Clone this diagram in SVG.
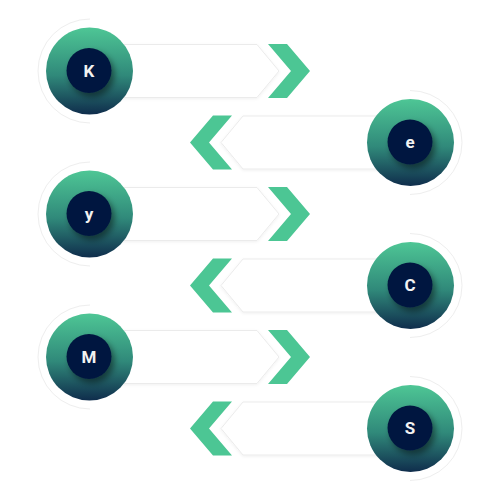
<svg xmlns="http://www.w3.org/2000/svg" width="500" height="500" viewBox="0 0 500 500">
<defs>
<linearGradient id="g" x1="0" y1="0" x2="0" y2="1">
<stop offset="0" stop-color="#4ec695"/>
<stop offset="0.55" stop-color="#30897a"/>
<stop offset="1" stop-color="#0f2d4c"/>
</linearGradient>
<filter id="sh" x="-50%" y="-50%" width="200%" height="200%">
<feDropShadow dx="3" dy="4" stdDeviation="3" flood-color="#000" flood-opacity="0.45"/>
</filter>
<filter id="bs" x="-10%" y="-30%" width="120%" height="160%">
<feDropShadow dx="0" dy="1" stdDeviation="1.5" flood-color="#000" flood-opacity="0.06"/>
</filter>
</defs>
<style>
.ring{fill:#fff;stroke:#eeeeee;stroke-width:1}
.bar{fill:#fff;stroke:#ebebeb;stroke-width:1}
.chev{fill:#4cc694}
.outer{fill:url(#g)}
.inner{fill:#02193f;filter:url(#sh)}
.lbl{font-family:Roboto,"Liberation Sans",sans-serif;font-weight:bold;font-size:17px;fill:#f2f2f2;text-anchor:middle}
</style>
<g id="connectors">
<polygon class="chev" points="268,44 287,44 310,71 287,98 268,98 291,71"/>
<polygon class="chev" points="232,115.5 213,115.5 190,142.5 213,169.5 232,169.5 209,142.5"/>
<polygon class="chev" points="268,187 287,187 310,214 287,241 268,241 291,214"/>
<polygon class="chev" points="232,258.5 213,258.5 190,285.5 213,312.5 232,312.5 209,285.5"/>
<polygon class="chev" points="268,330 287,330 310,357 287,384 268,384 291,357"/>
<polygon class="chev" points="232,401.5 213,401.5 190,428.5 213,455.5 232,455.5 209,428.5"/>
</g>
<g id="node-K">
<path class="ring" d="M90,19 A52,52 0 0 0 90,123"/>
<polygon class="bar" filter="url(#bs)" points="95,44.5 257,44.5 279,71 257,97.5 95,97.5"/>
<circle class="outer" cx="89.5" cy="71" r="43.5"/>
<circle class="inner" cx="89" cy="70.5" r="22.5"/>
<text class="lbl" x="89" y="76.7">K</text>
</g>
<g id="node-e">
<path class="ring" d="M410,90.5 A52,52 0 0 1 410,194.5"/>
<polygon class="bar" filter="url(#bs)" points="405,116 243,116 221,142.5 243,169 405,169"/>
<circle class="outer" cx="410.5" cy="142.5" r="43.5"/>
<circle class="inner" cx="410" cy="142" r="22.5"/>
<text class="lbl" x="410" y="148.2">e</text>
</g>
<g id="node-y">
<path class="ring" d="M90,162 A52,52 0 0 0 90,266"/>
<polygon class="bar" filter="url(#bs)" points="95,187.5 257,187.5 279,214 257,240.5 95,240.5"/>
<circle class="outer" cx="89.5" cy="214" r="43.5"/>
<circle class="inner" cx="89" cy="213.5" r="22.5"/>
<text class="lbl" x="89" y="219.7">y</text>
</g>
<g id="node-C">
<path class="ring" d="M410,233.5 A52,52 0 0 1 410,337.5"/>
<polygon class="bar" filter="url(#bs)" points="405,259 243,259 221,285.5 243,312 405,312"/>
<circle class="outer" cx="410.5" cy="285.5" r="43.5"/>
<circle class="inner" cx="410" cy="285" r="22.5"/>
<text class="lbl" x="410" y="291.2">C</text>
</g>
<g id="node-M">
<path class="ring" d="M90,305 A52,52 0 0 0 90,409"/>
<polygon class="bar" filter="url(#bs)" points="95,330.5 257,330.5 279,357 257,383.5 95,383.5"/>
<circle class="outer" cx="89.5" cy="357" r="43.5"/>
<circle class="inner" cx="89" cy="356.5" r="22.5"/>
<text class="lbl" x="89" y="362.7">M</text>
</g>
<g id="node-S">
<path class="ring" d="M410,376.5 A52,52 0 0 1 410,480.5"/>
<polygon class="bar" filter="url(#bs)" points="405,402 243,402 221,428.5 243,455 405,455"/>
<circle class="outer" cx="410.5" cy="428.5" r="43.5"/>
<circle class="inner" cx="410" cy="428" r="22.5"/>
<text class="lbl" x="410" y="434.2">S</text>
</g>
</svg>
